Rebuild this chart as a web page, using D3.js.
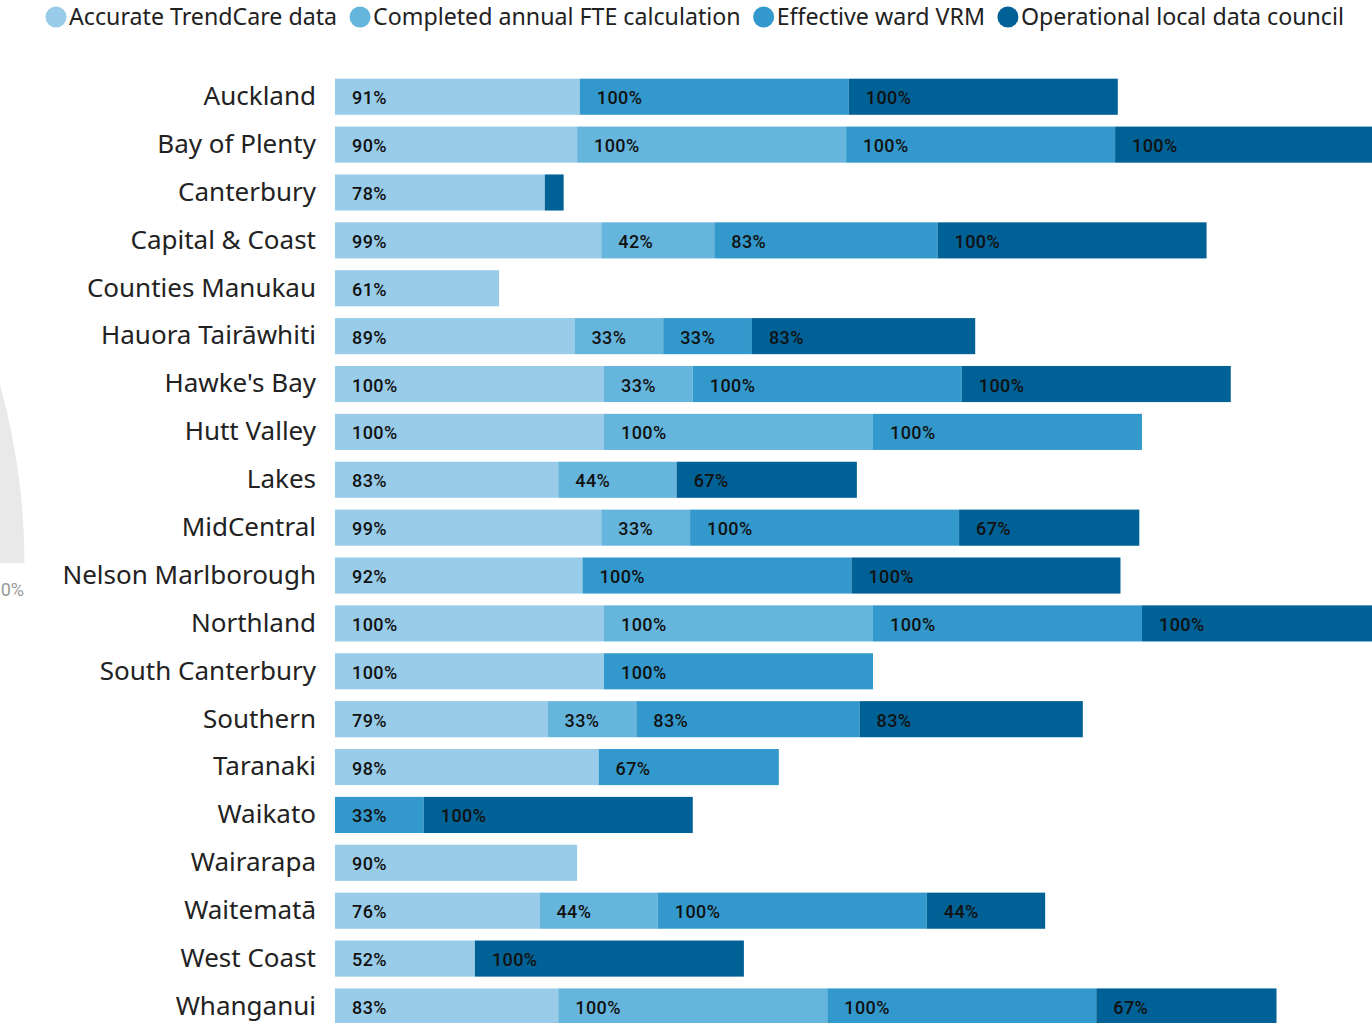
<!DOCTYPE html>
<html>
<head>
<meta charset="utf-8">
<script src="https://cdn.jsdelivr.net/npm/d3@7"></script>
<style>
  html, body { margin: 0; padding: 0; background: #fff; overflow: hidden; }
  svg { display: block; }
</style>
</head>
<body>
<svg id="chart" width="1372" height="1023"></svg>
<script>
const categories = ["Auckland","Bay of Plenty","Canterbury","Capital & Coast","Counties Manukau","Hauora Tairāwhiti","Hawke's Bay","Hutt Valley","Lakes","MidCentral","Nelson Marlborough","Northland","South Canterbury","Southern","Taranaki","Waikato","Wairarapa","Waitematā","West Coast","Whanganui"];
const seriesNames = ["Accurate TrendCare data","Completed annual FTE calculation","Effective ward VRM","Operational local data council"];
const accurateTrendCare = [91,90,78,99,61,89,100,100,83,99,92,100,100,79,98,0,90,76,52,83];
const completedFTE      = [0,100,0,42,0,33,33,100,44,33,0,100,0,33,0,0,0,44,0,100];
const effectiveVRM      = [100,100,0,83,0,33,100,100,0,100,100,100,100,83,67,33,0,100,0,100];
const operationalLDC    = [100,100,7,100,0,83,100,0,67,67,100,100,0,83,0,100,0,44,100,67];
const colors = ["#99cce8","#66b5dc","#3399cc","#006196"];
const gaugeLabel = "0%";

const seriesValues = [accurateTrendCare, completedFTE, effectiveVRM, operationalLDC];
const rows = categories.map((c, i) => {
  const r = { category: c };
  seriesNames.forEach((s, j) => r[s] = seriesValues[j][i]);
  return r;
});

const svg = d3.select("#chart");

// partial gauge from neighbouring visual (cropped)
const R = 660;
svg.append("path")
  .attr("transform", `translate(${24.5 - R},563)`)
  .attr("d", d3.arc()({ innerRadius: R * 0.55, outerRadius: R, startAngle: 0, endAngle: Math.PI / 2 }))
  .attr("fill", "#e9e9e9");
svg.append("text")
  .attr("x", 24).attr("y", 596)
  .attr("text-anchor", "end")
  .attr("font-family", "Roboto, sans-serif")
  .attr("font-size", 18)
  .attr("fill", "#999")
  .text(gaugeLabel);

const x = d3.scaleLinear().domain([0, 100]).range([335, 604]);
const y = d3.scaleBand().domain(categories).range([72.8, 1030.4]).paddingInner(0.246).paddingOuter(0.123);

const stack = d3.stack().keys(seriesNames);
const stacked = stack(rows);

const g = svg.append("g");
stacked.forEach((layer, j) => {
  const lg = g.append("g").attr("fill", colors[j]);
  lg.selectAll("rect").data(layer.filter(d => d[1] - d[0] > 0)).join("rect")
    .attr("x", d => x(d[0]))
    .attr("y", d => y(d.data.category))
    .attr("width", d => x(d[1]) - x(d[0]))
    .attr("height", y.bandwidth());
  g.append("g").selectAll("text").data(layer.filter(d => (x(d[1]) - x(d[0])) > 40)).join("text")
    .attr("x", d => x(d[0]) + 17)
    .attr("y", d => y(d.data.category) + y.bandwidth() / 2 + 1)
    .attr("dy", "0.36em")
    .attr("font-family", "Roboto, sans-serif")
    .attr("font-size", 18)
    .attr("font-weight", 500)
    .attr("letter-spacing", 0.4)
    .attr("fill", "#111")
    .text(d => (d[1] - d[0]) + "%");
});

// category axis
const yAxis = svg.append("g")
  .attr("transform", "translate(316,0)")
  .call(d3.axisLeft(y).tickSize(0).tickPadding(0));
yAxis.select(".domain").remove();
yAxis.selectAll("text")
  .attr("font-family", "'Noto Sans', sans-serif")
  .attr("font-size", 26)
  .attr("fill", "#222");

// legend
const legend = svg.append("g");
let cx = 56;
seriesNames.forEach((s, j) => {
  const item = legend.append("g");
  item.append("circle").attr("cx", cx).attr("cy", 17).attr("r", 10.5).attr("fill", colors[j]);
  const t = item.append("text")
    .attr("x", cx + 13).attr("y", 17).attr("dy", "0.35em")
    .attr("font-family", "'Noto Sans', sans-serif")
    .attr("font-size", 23.2)
    .attr("fill", "#222")
    .text(s);
  cx = cx + 13 + t.node().getComputedTextLength() + 23;
});
</script>
</body>
</html>
